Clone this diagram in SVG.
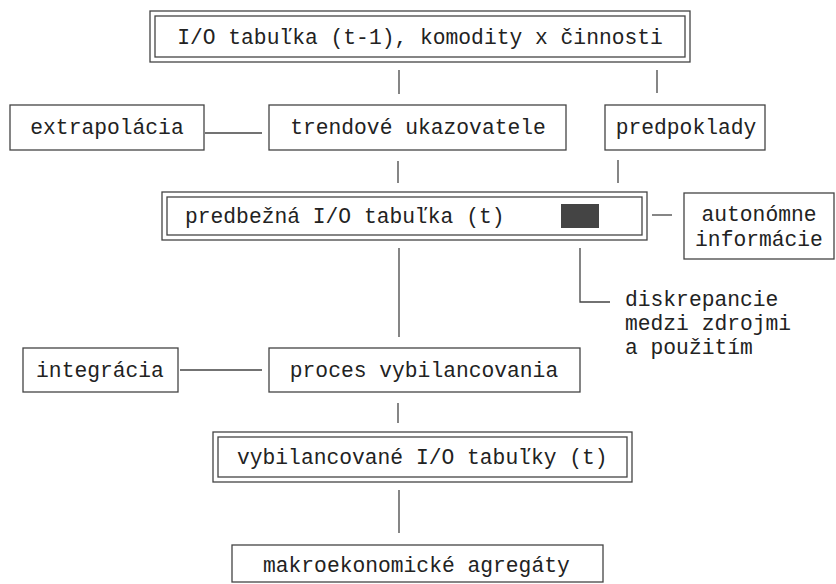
<svg xmlns="http://www.w3.org/2000/svg" width="836" height="584" viewBox="0 0 836 584">
<style>
  .box { fill: none; stroke: #444; stroke-width: 1.3; }
  .conn { fill: none; stroke: #444; stroke-width: 1.3; }
  text { font-family: "Liberation Mono", "Courier New", monospace; font-size: 21.3px; fill: #222; }
  .c { text-anchor: middle; }
</style>
<rect width="836" height="584" fill="#fff"/>
<g id="connectors">
  <line class="conn" x1="399" y1="70" x2="399" y2="94"/>
  <line class="conn" x1="657" y1="70" x2="657" y2="93"/>
  <line class="conn" x1="205" y1="133" x2="262" y2="133"/>
  <line class="conn" x1="398" y1="161" x2="398" y2="183"/>
  <line class="conn" x1="618" y1="160" x2="618" y2="183"/>
  <line class="conn" x1="652" y1="215" x2="672" y2="215"/>
  <polyline class="conn" points="580,248 580,302 610,302"/>
  <line class="conn" x1="399" y1="248" x2="399" y2="337"/>
  <line class="conn" x1="180" y1="370" x2="262" y2="370"/>
  <line class="conn" x1="398" y1="403" x2="398" y2="423"/>
  <line class="conn" x1="399" y1="490" x2="399" y2="533"/>
</g>
<g id="n_top">
  <rect class="box" x="150" y="11" width="540" height="51"/>
  <rect class="box" x="155" y="16" width="530" height="41"/>
  <text class="c" x="420" y="44">I/O tabuľka (t-1), komodity x činnosti</text>
</g>
<g id="n_extrapolacia">
  <rect class="box" x="10" y="105" width="194" height="45"/>
  <text class="c" x="107" y="134">extrapolácia</text>
</g>
<g id="n_trendove">
  <rect class="box" x="269" y="105" width="297" height="45"/>
  <text class="c" x="418" y="134">trendové ukazovatele</text>
</g>
<g id="n_predpoklady">
  <rect class="box" x="605" y="105" width="160" height="45"/>
  <text class="c" x="686" y="134">predpoklady</text>
</g>
<g id="n_predbezna">
  <rect class="box" x="162" y="192" width="485" height="48"/>
  <rect class="box" x="167" y="197" width="475" height="38"/>
  <text x="185" y="223">predbežná I/O tabuľka (t)</text>
  <rect x="561" y="204" width="38" height="24" fill="#444"/>
</g>
<g id="n_autonomne">
  <rect class="box" x="684" y="193" width="150" height="66"/>
  <text class="c" x="759" y="221">autonómne</text>
  <text class="c" x="759" y="246">informácie</text>
</g>
<g id="n_diskrepancie">
  <text x="625" y="306">diskrepancie</text>
  <text x="625" y="330">medzi zdrojmi</text>
  <text x="625" y="354">a použitím</text>
</g>
<g id="n_integracia">
  <rect class="box" x="23" y="348" width="155" height="44"/>
  <text class="c" x="100" y="377">integrácia</text>
</g>
<g id="n_proces">
  <rect class="box" x="269" y="348" width="311" height="44"/>
  <text class="c" x="424" y="377">proces vybilancovania</text>
</g>
<g id="n_vybilancovane">
  <rect class="box" x="213" y="432" width="419" height="50"/>
  <rect class="box" x="218" y="437" width="409" height="40"/>
  <text x="237" y="464">vybilancované I/O tabuľky (t)</text>
</g>
<g id="n_makro">
  <rect class="box" x="232" y="545" width="371" height="37"/>
  <text x="263" y="572">makroekonomické agregáty</text>
</g>
</svg>
